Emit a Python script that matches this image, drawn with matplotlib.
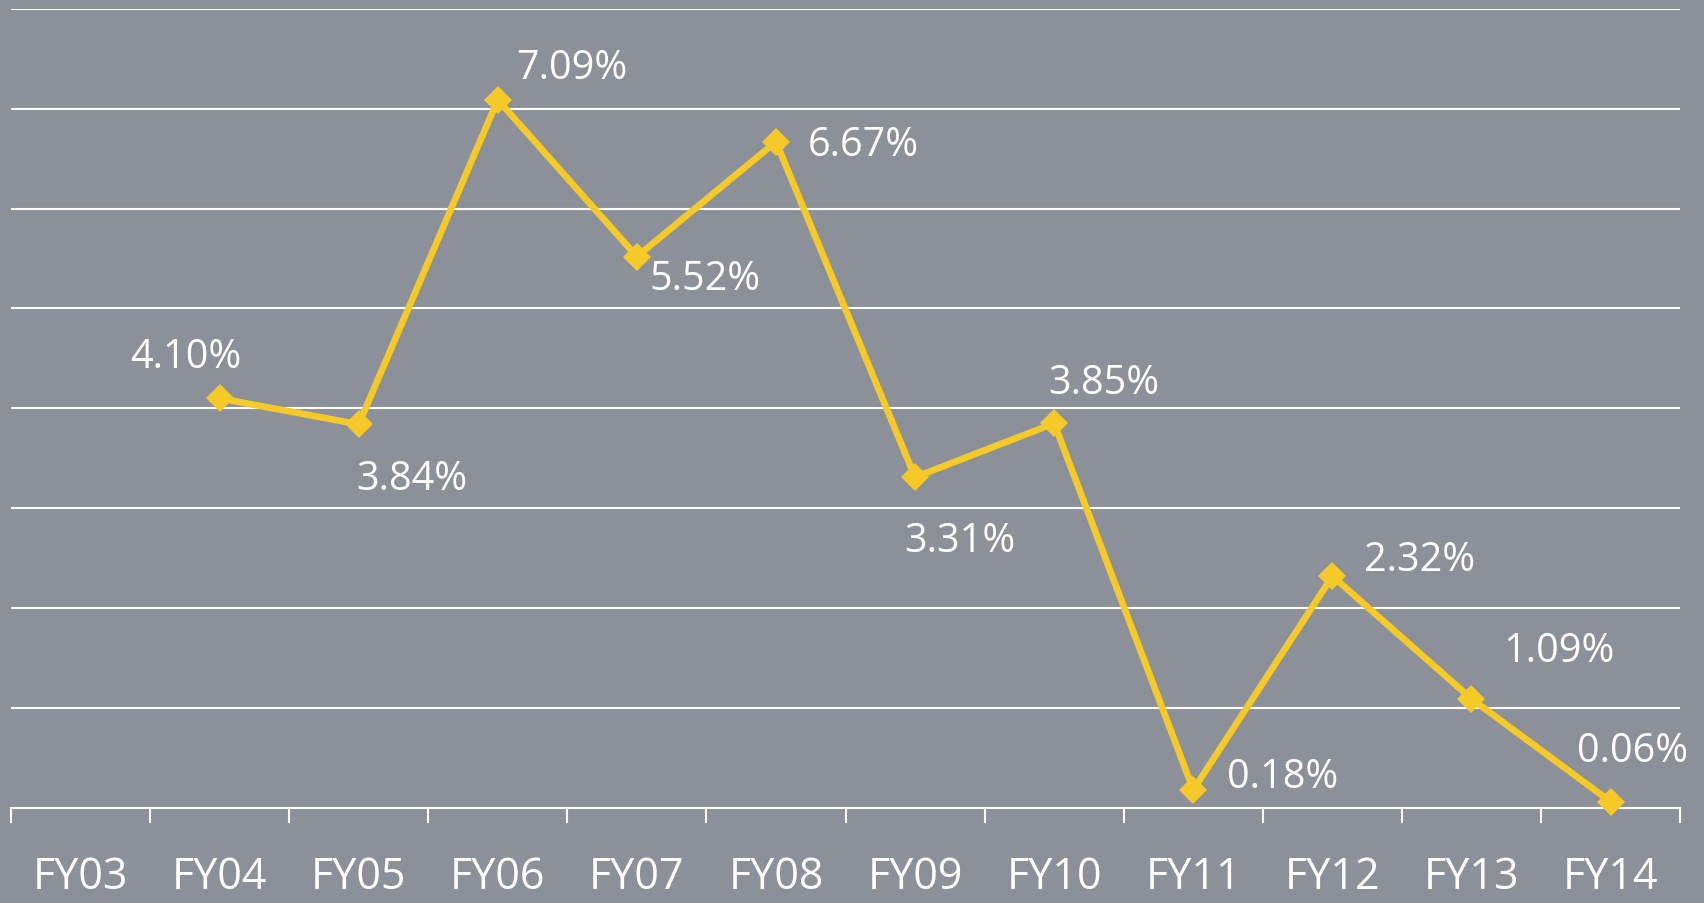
import matplotlib
matplotlib.use("Agg")
import matplotlib.pyplot as plt
import numpy as np

# fiscal years and growth (%)
years = ["FY03", "FY04", "FY05", "FY06", "FY07", "FY08",
         "FY09", "FY10", "FY11", "FY12", "FY13", "FY14"]
growth = [None, 4.10, 3.84, 7.09, 5.52, 6.67, 3.31, 3.85, 0.18, 2.32, 1.09, 0.06]
labels = ["", "4.10%", "3.84%", "7.09%", "5.52%", "6.67%", "3.31%",
          "3.85%", "0.18%", "2.32%", "1.09%", "0.06%"]

# where each value label sits relative to its point (points)
offsets = [(0, 0), (-24, 30), (38, -39), (53, 23), (49, -16), (63, -2),
           (32, -46), (36, 29), (64, 9), (63, 12), (63, 35), (16, 37)]

bg = "#8b9099"
gold = "#f5c928"

fig = plt.figure(figsize=(17.04, 9.04), dpi=100, facecolor=bg)
ax = fig.add_axes([0.0064, 0.1054, 0.9796, 0.8836])
ax.set_facecolor(bg)

x = np.arange(len(years))
xs = [i for i in x if growth[i] is not None]
ys = [growth[i] for i in xs]

ax.set_ylim(0, 8)
ax.set_xlim(-0.5, len(years) - 0.5)
ax.set_yticks(np.arange(1, 9))
ax.yaxis.grid(True, color="white", linewidth=1.5)
ax.set_axisbelow(True)
ax.tick_params(axis="y", left=False, labelleft=False)

ax.plot(xs, ys, color=gold, linewidth=4.8, marker="D", markersize=14,
        markeredgewidth=0, zorder=3, clip_on=False)

for i in xs:
    ax.annotate(labels[i], (i, growth[i]), xytext=offsets[i],
                textcoords="offset points", ha="center", va="center",
                color="white", fontsize=28.5, family=["Open Sans", "DejaVu Sans"])

for s in ["top", "left", "right"]:
    ax.spines[s].set_visible(False)
ax.spines["bottom"].set_color("white")
ax.spines["bottom"].set_linewidth(1.5)

# ticks between categories, labels at the centres
ax.set_xticks(np.arange(-0.5, len(years), 1.0))
ax.set_xticklabels([])
ax.tick_params(axis="x", which="major", direction="out", length=11,
               width=1.5, color="white")
ax.set_xticks(x, minor=True)
ax.set_xticklabels(years, minor=True, color="white", fontsize=31,
                   family=["Open Sans", "DejaVu Sans"])
ax.tick_params(axis="x", which="minor", length=0, pad=34)

fig.savefig("out.png", dpi=100, facecolor=bg)
